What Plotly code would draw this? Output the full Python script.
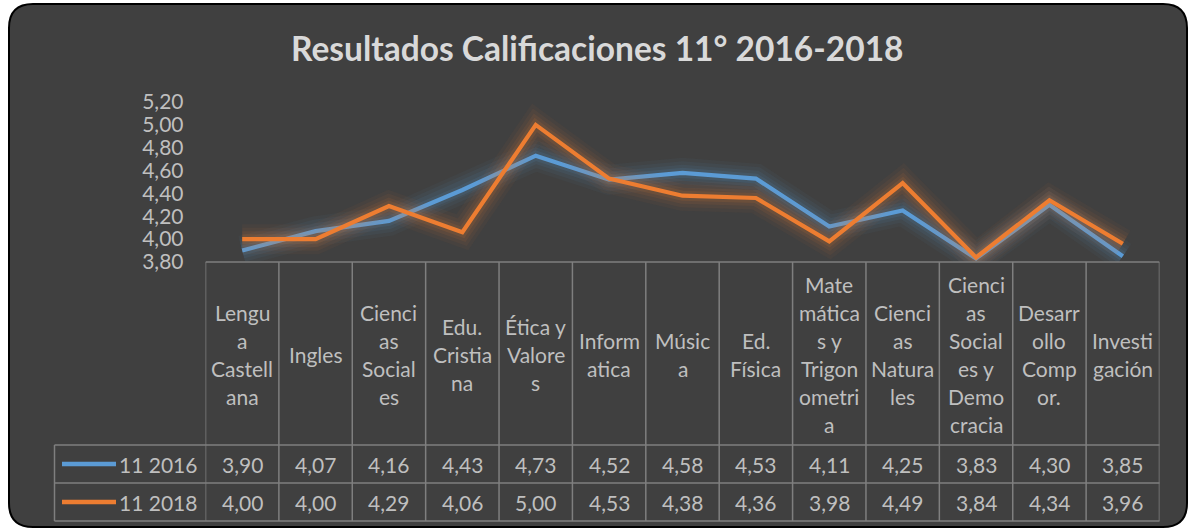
import plotly.graph_objects as go

# ---------------- data ----------------
categories = ["Lengua Castellana", "Ingles", "Ciencias Sociales", "Edu. Cristiana",
              "Ética y Valores", "Informatica", "Música", "Ed. Física",
              "Matemáticas y Trigonometria", "Ciencias Naturales",
              "Ciencias Sociales y Democracia", "Desarrollo Compor.", "Investigación"]
category_labels = ["Lengu<br>a<br>Castell<br>ana", "Ingles", "Cienci<br>as<br>Social<br>es",
                   "Edu.<br>Cristia<br>na", "Ética y<br>Valore<br>s", "Inform<br>atica",
                   "Músic<br>a", "Ed.<br>Física", "Mate<br>mática<br>s y<br>Trigon<br>ometri<br>a",
                   "Cienci<br>as<br>Natura<br>les", "Cienci<br>as<br>Social<br>es y<br>Demo<br>cracia",
                   "Desarr<br>ollo<br>Comp<br>or.", "Investi<br>gación"]
series_names = ["11 2016", "11 2018"]
values_2016 = [3.90, 4.07, 4.16, 4.43, 4.73, 4.52, 4.58, 4.53, 4.11, 4.25, 3.83, 4.30, 3.85]
values_2018 = [4.00, 4.00, 4.29, 4.06, 5.00, 4.53, 4.38, 4.36, 3.98, 4.49, 3.84, 4.34, 3.96]
y_ticks = [3.80, 4.00, 4.20, 4.40, 4.60, 4.80, 5.00, 5.20]
title_text = "Resultados Calificaciones 11° 2016-2018"

series_values = [values_2016, values_2018]
colors = ["#5B9BD5", "#ED7D31"]
glow_rgba = ["rgba(91,155,213,{a})", "rgba(237,125,49,{a})"]

# ---------------- layout helpers ----------------
W, H = 1189, 531
FONT = "Lato, 'Open Sans', sans-serif"
TXT = "#bfbfbf"
GRID = "#7f7f7f"


def px(x):
    return x / W


def py(y):
    return 1 - y / H


PLOT_L, PLOT_R = 205.5, 1159.5
PLOT_T, PLOT_B = 102, 262
ROW1, ROW2, ROW3 = 445, 483, 521
TABLE_L = 54.5

n = len(categories)
xs = list(range(n))

fig = go.Figure()

for name, vals, col, glow in zip(series_names, series_values, colors, glow_rgba):
    for w, a in [(30, 0.045), (23, 0.06), (16, 0.08), (10, 0.11)]:
        fig.add_trace(go.Scatter(x=xs, y=vals, mode="lines",
                                 line=dict(color=glow.format(a=a), width=w),
                                 hoverinfo="skip", showlegend=False))
    fig.add_trace(go.Scatter(x=xs, y=vals, mode="lines", name=name,
                             line=dict(color=col, width=4.2),
                             showlegend=False))

shapes = []
annotations = []

# outer rounded background
x0, x1, y0, y1 = px(9), px(1187), py(527), py(4)
rx, ry = 24 / W, 24 / H
path = (f"M {x0+rx},{y1} L {x1-rx},{y1} Q {x1},{y1} {x1},{y1-ry} "
        f"L {x1},{y0+ry} Q {x1},{y0} {x1-rx},{y0} "
        f"L {x0+rx},{y0} Q {x0},{y0} {x0},{y0+ry} "
        f"L {x0},{y1-ry} Q {x0},{y1} {x0+rx},{y1} Z")
shapes.append(dict(type="path", xref="paper", yref="paper", path=path,
                   fillcolor="#404040", line=dict(color="#000000", width=2),
                   layer="below"))

# data table grid
line_style = dict(color=GRID, width=1.5)
shapes.append(dict(type="line", xref="x", yref="paper", x0=-0.5, x1=n - 0.5,
                   y0=py(PLOT_B), y1=py(PLOT_B), line=line_style))
for yy in (ROW1, ROW2, ROW3):
    shapes.append(dict(type="line", xref="paper", yref="paper", x0=px(TABLE_L), x1=px(PLOT_R),
                       y0=py(yy), y1=py(yy), line=line_style))
for i in range(n + 1):
    shapes.append(dict(type="line", xref="x", yref="paper", x0=i - 0.5, x1=i - 0.5,
                       y0=py(PLOT_B), y1=py(ROW3), line=line_style))
shapes.append(dict(type="line", xref="paper", yref="paper", x0=px(TABLE_L), x1=px(TABLE_L),
                   y0=py(ROW1), y1=py(ROW3), line=line_style))

# category headers
head_c = (PLOT_B + ROW1) / 2 + 1
LH = 28
for i, lab in enumerate(category_labels):
    parts = lab.split("<br>")
    m = len(parts)
    for k, p in enumerate(parts):
        annotations.append(dict(xref="x", yref="paper", x=i, y=py(head_c + (k - (m - 1) / 2) * LH),
                                text=p, showarrow=False, xanchor="center", yanchor="middle",
                                font=dict(family=FONT, size=21, color=TXT)))

# value rows with legend keys
row_centers = [(ROW1 + ROW2) / 2, (ROW2 + ROW3) / 2]
for name, vals, col, rc in zip(series_names, series_values, colors, row_centers):
    shapes.append(dict(type="line", xref="paper", yref="paper", x0=px(62), x1=px(116),
                       y0=py(rc), y1=py(rc), line=dict(color=col, width=4.5)))
    annotations.append(dict(xref="paper", yref="paper", x=px(199), y=py(rc), text=name,
                            showarrow=False, xanchor="right", yanchor="middle",
                            font=dict(family=FONT, size=21, color=TXT)))
    for i, v in enumerate(vals):
        annotations.append(dict(xref="x", yref="paper", x=i, y=py(rc),
                                text=f"{v:.2f}".replace(".", ","), showarrow=False,
                                xanchor="center", yanchor="middle",
                                font=dict(family=FONT, size=21, color=TXT)))

# title
annotations.append(dict(xref="paper", yref="paper", x=px(598), y=py(48), text=f"<b>{title_text}</b>",
                        showarrow=False, xanchor="center", yanchor="middle",
                        font=dict(family=FONT, size=33.5, color="#d9d9d9")))

fig.update_layout(
    width=W, height=H, autosize=False,
    margin=dict(l=0, r=0, t=0, b=0, pad=0, autoexpand=False),
    paper_bgcolor="#ffffff", plot_bgcolor="rgba(0,0,0,0)",
    separators=",.",
    shapes=shapes, annotations=annotations,
    showlegend=False,
    xaxis=dict(domain=[px(PLOT_L), px(PLOT_R)], range=[-0.5, n - 0.5], visible=False,
               fixedrange=True, automargin=False),
    yaxis=dict(domain=[py(PLOT_B), py(PLOT_T)], range=[3.8, 5.2], tickvals=y_ticks,
               tickformat=".2f", showgrid=False, zeroline=False, showline=False, ticks="",
               ticklabelstandoff=21, automargin=False,
               tickfont=dict(family=FONT, size=21, color=TXT), fixedrange=True),
)

fig.write_html("out.html", config={"displayModeBar": False},
               post_script="document.body.style.margin='0';document.body.style.overflow='hidden';")
